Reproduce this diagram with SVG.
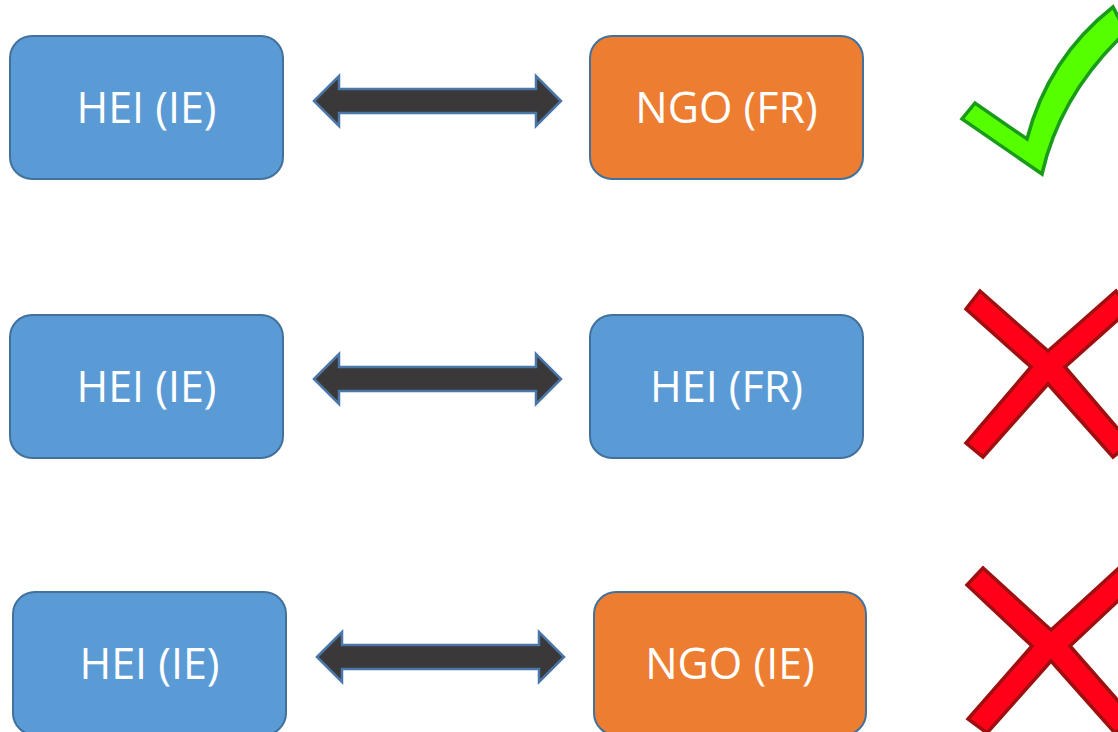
<svg xmlns="http://www.w3.org/2000/svg" width="1118" height="732" viewBox="0 0 1118 732">
<defs>
<style>
.box{stroke:#41719C;stroke-width:2}
.hei{fill:#5B9BD5}
.ngo{fill:#ED7D31}
.lbl{font-family:"Open Sans","Noto Sans",sans-serif;font-size:43px;fill:#ffffff;text-anchor:middle}
.arr{fill:#3A3838;stroke:#4A76A8;stroke-width:2.5;stroke-linejoin:miter}
.ok{fill:#55FF00;stroke:#1A9A1A;stroke-width:3.5;stroke-linejoin:miter}
.no{fill:#FF0018;stroke:#9E1010;stroke-width:3.5;stroke-linejoin:miter}
</style>
<path id="dbl" d="M0,0 L25,-25 L25,-12 L222,-12 L222,-25 L247,0 L222,25 L222,12 L25,12 L25,25 Z"/>
</defs>
<rect width="1118" height="732" fill="#ffffff"/>
<g id="connectors">
<use href="#dbl" class="arr" transform="translate(314,101)"/>
<use href="#dbl" class="arr" transform="translate(314,379)"/>
<use href="#dbl" class="arr" transform="translate(317,657)"/>
</g>
<g id="hei-ie-1"><rect class="box hei" x="10" y="36" width="273" height="143" rx="22"/><text class="lbl" x="146.5" y="123">HEI (IE)</text></g>
<g id="ngo-fr"><rect class="box ngo" x="590" y="36" width="273" height="143" rx="22"/><text class="lbl" x="726.5" y="123">NGO (FR)</text></g>
<g id="hei-ie-2"><rect class="box hei" x="10" y="315" width="273" height="143" rx="22"/><text class="lbl" x="146.5" y="402">HEI (IE)</text></g>
<g id="hei-fr"><rect class="box hei" x="590" y="315" width="273" height="143" rx="22"/><text class="lbl" x="726.5" y="402">HEI (FR)</text></g>
<g id="hei-ie-3"><rect class="box hei" x="13" y="592" width="273" height="143" rx="22"/><text class="lbl" x="149.5" y="679">HEI (IE)</text></g>
<g id="ngo-ie"><rect class="box ngo" x="594" y="592" width="272" height="143" rx="22"/><text class="lbl" x="730" y="679">NGO (IE)</text></g>
<g id="check"><path class="ok" d="M975,103 L962,119 L1042,174 Q1060,94 1126,32 L1113,7 Q1048,58 1027,139 Z"/></g>
<g id="cross-1"><path class="no" d="M980,291 L966,309 L1031,367 L966,443 L983,457 L1048,384 L1113,457 L1130,443 L1065,367 L1130,309 L1116,291 L1048,351 Z"/></g>
<g id="cross-2"><path class="no" d="M983,568 L967,585 L1032,646 L968,719 L987,733 L1051,661 L1115,733 L1134,719 L1070,646 L1135,585 L1119,568 L1051,630 Z"/></g>
</svg>
